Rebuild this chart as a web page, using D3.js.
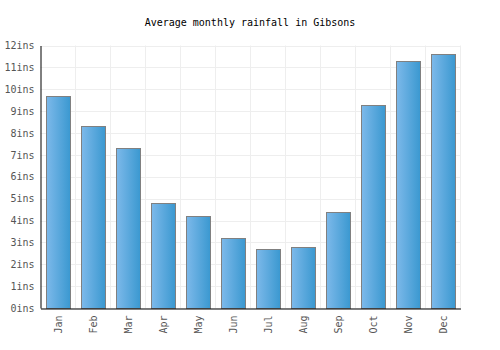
<!DOCTYPE html>
<html>
<head>
<meta charset="utf-8">
<script src="https://cdn.jsdelivr.net/npm/d3@7"></script>
<style>
body { margin: 0; background: #fff; }
text { font-family: "DejaVu Sans Mono", monospace; }
</style>
</head>
<body>
<div id="chart"></div>
<script>
var months = ["Jan", "Feb", "Mar", "Apr", "May", "Jun", "Jul", "Aug", "Sep", "Oct", "Nov", "Dec"];
var rainfall = [9.7, 8.3, 7.3, 4.8, 4.2, 3.2, 2.7, 2.8, 4.4, 9.3, 11.3, 11.6];
var yTicks = [0, 1, 2, 3, 4, 5, 6, 7, 8, 9, 10, 11, 12];
var title = "Average monthly rainfall in Gibsons";

var w = 500, h = 350;
var margin = {top: 45.5, right: 39.5, bottom: 42, left: 40.5};

var svg = d3.select("#chart").append("svg")
	.attr("width", w)
	.attr("height", h);

var defs = svg.append("defs");
var grad = defs.append("linearGradient")
	.attr("id", "barGrad")
	.attr("x1", "0%").attr("x2", "100%")
	.attr("y1", "0%").attr("y2", "0%");
grad.append("stop").attr("offset", "0%").attr("stop-color", "#7db9ea");
grad.append("stop").attr("offset", "100%").attr("stop-color", "#3a98d0");

var x = d3.scaleBand().domain(months).range([margin.left, w - margin.right]).padding(0);
var y = d3.scaleLinear().domain([0, 12]).range([h - margin.bottom, margin.top]);

// title
svg.append("text")
	.attr("x", w / 2)
	.attr("y", 26)
	.attr("text-anchor", "middle")
	.style("font-size", "10px")
	.attr("fill", "#000")
	.text(title);

// grid
svg.append("g").selectAll("line")
	.data(yTicks).enter()
	.append("line")
	.attr("x1", margin.left).attr("x2", w - margin.right)
	.attr("y1", function(d) { return Math.round(y(d)) + 0.5; })
	.attr("y2", function(d) { return Math.round(y(d)) + 0.5; })
	.attr("stroke", "#eeeeee");

var xLines = months.map(function(m) { return x(m) + x.bandwidth(); });
svg.append("g").selectAll("line")
	.data(xLines).enter()
	.append("line")
	.attr("x1", function(d) { return d; })
	.attr("x2", function(d) { return d; })
	.attr("y1", margin.top).attr("y2", h - margin.bottom)
	.attr("stroke", "#eeeeee");

// bars
var barW = x.bandwidth() * 0.68;
svg.append("g").selectAll("rect")
	.data(rainfall).enter()
	.append("rect")
	.attr("x", function(d, i) { return Math.round(x(months[i]) + (x.bandwidth() - barW) / 2) + 0.5; })
	.attr("y", function(d) { return Math.round(y(d)) + 0.5; })
	.attr("width", Math.round(barW))
	.attr("height", function(d) { return Math.round(y(0)) - Math.round(y(d)); })
	.attr("fill", "url(#barGrad)")
	.attr("stroke", "#808080")
	.attr("stroke-width", 1);

// y axis
var yAxis = d3.axisLeft(y).tickValues(yTicks).tickSize(0).tickPadding(6)
	.tickFormat(function(d) { return d + "ins"; });
var gy = svg.append("g")
	.attr("transform", "translate(" + margin.left + ",0)")
	.call(yAxis);
gy.select(".domain").attr("stroke", "#000");
gy.selectAll("text").attr("fill", "#555").style("font-size", "10px")
	.style("font-family", "DejaVu Sans Mono, monospace");

// x axis
var xAxis = d3.axisBottom(x).tickSize(0).tickPadding(8);
var gx = svg.append("g")
	.attr("transform", "translate(0," + (h - margin.bottom + 0.5) + ")")
	.call(xAxis);
gx.select(".domain").attr("stroke", "#000");
gx.selectAll("text")
	.attr("fill", "#555")
	.style("font-size", "10px")
	.style("font-family", "DejaVu Sans Mono, monospace")
	.style("text-anchor", "end")
	.attr("dx", "-0.7em")
	.attr("dy", "0.35em")
	.attr("y", 0)
	.attr("transform", "rotate(-90)");
</script>
</body>
</html>
